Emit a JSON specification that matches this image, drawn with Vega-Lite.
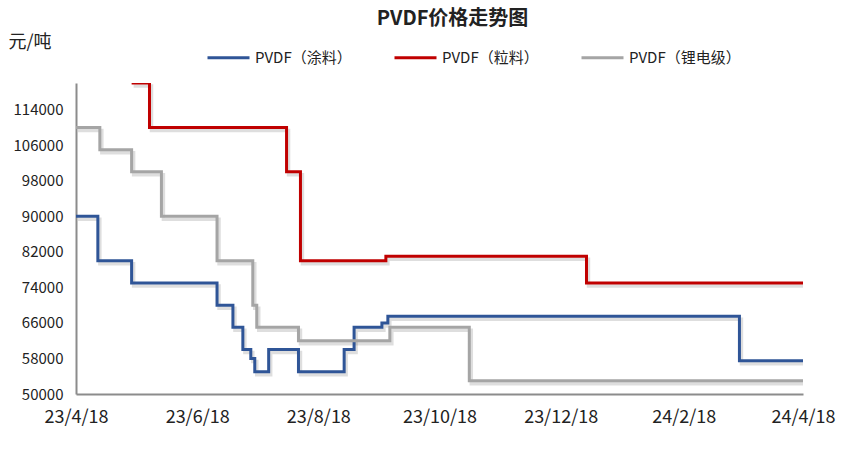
{
  "$schema": "https://vega.github.io/schema/vega-lite/v6.json",
  "width": 727,
  "height": 311,
  "autosize": {"type": "none"},
  "padding": {"left": 76, "top": 83, "right": 40, "bottom": 62},
  "background": "white",
  "config": {"view": {"stroke": null}, "font": "Noto Sans CJK SC"},
  "title": {"text": "PVDF价格走势图", "fontSize": 20, "fontWeight": "bold", "color": "#222222", "anchor": "middle", "dx": 13, "offset": 4},
  "data": {"values": [
    {"date": "2023-04-18", "series": "PVDF（涂料）", "value": 90000},
    {"date": "2023-04-29", "series": "PVDF（涂料）", "value": 80000},
    {"date": "2023-05-16", "series": "PVDF（涂料）", "value": 75000},
    {"date": "2023-06-28", "series": "PVDF（涂料）", "value": 70000},
    {"date": "2023-07-06", "series": "PVDF（涂料）", "value": 65000},
    {"date": "2023-07-11", "series": "PVDF（涂料）", "value": 60000},
    {"date": "2023-07-15", "series": "PVDF（涂料）", "value": 58000},
    {"date": "2023-07-17", "series": "PVDF（涂料）", "value": 55000},
    {"date": "2023-07-24", "series": "PVDF（涂料）", "value": 60000},
    {"date": "2023-08-08", "series": "PVDF（涂料）", "value": 55000},
    {"date": "2023-08-31", "series": "PVDF（涂料）", "value": 60000},
    {"date": "2023-09-05", "series": "PVDF（涂料）", "value": 65000},
    {"date": "2023-09-19", "series": "PVDF（涂料）", "value": 66000},
    {"date": "2023-09-22", "series": "PVDF（涂料）", "value": 67500},
    {"date": "2024-03-17", "series": "PVDF（涂料）", "value": 57500},
    {"date": "2024-04-18", "series": "PVDF（涂料）", "value": 57500},
    {"date": "2023-05-16", "series": "PVDF（粒料）", "value": 120000},
    {"date": "2023-05-25", "series": "PVDF（粒料）", "value": 110000},
    {"date": "2023-08-02", "series": "PVDF（粒料）", "value": 100000},
    {"date": "2023-08-09", "series": "PVDF（粒料）", "value": 80000},
    {"date": "2023-09-21", "series": "PVDF（粒料）", "value": 81000},
    {"date": "2023-12-31", "series": "PVDF（粒料）", "value": 75000},
    {"date": "2024-04-18", "series": "PVDF（粒料）", "value": 75000},
    {"date": "2023-04-18", "series": "PVDF（锂电级）", "value": 110000},
    {"date": "2023-04-30", "series": "PVDF（锂电级）", "value": 105000},
    {"date": "2023-05-16", "series": "PVDF（锂电级）", "value": 100000},
    {"date": "2023-05-31", "series": "PVDF（锂电级）", "value": 90000},
    {"date": "2023-06-28", "series": "PVDF（锂电级）", "value": 80000},
    {"date": "2023-07-16", "series": "PVDF（锂电级）", "value": 70000},
    {"date": "2023-07-18", "series": "PVDF（锂电级）", "value": 65000},
    {"date": "2023-08-08", "series": "PVDF（锂电级）", "value": 62000},
    {"date": "2023-09-23", "series": "PVDF（锂电级）", "value": 65000},
    {"date": "2023-11-02", "series": "PVDF（锂电级）", "value": 53000},
    {"date": "2024-04-18", "series": "PVDF（锂电级）", "value": 53000}
  ]},
  "encoding": {
    "x": {
      "field": "date", "type": "temporal",
      "scale": {"type": "utc", "domain": [{"year": 2023, "month": 4, "date": 18, "utc": true}, {"year": 2024, "month": 4, "date": 18, "utc": true}]},
      "axis": {
        "values": [
          {"year": 2023, "month": 4, "date": 18, "utc": true},
          {"year": 2023, "month": 6, "date": 18, "utc": true},
          {"year": 2023, "month": 8, "date": 18, "utc": true},
          {"year": 2023, "month": 10, "date": 18, "utc": true},
          {"year": 2023, "month": 12, "date": 18, "utc": true},
          {"year": 2024, "month": 2, "date": 18, "utc": true},
          {"year": 2024, "month": 4, "date": 18, "utc": true}
        ],
        "labelExpr": "utcFormat(datum.value, '%y/%-m/%d')",
        "title": null, "grid": false, "ticks": false,
        "labelFontSize": 18, "labelColor": "#222222", "labelPadding": 14,
        "labelFlush": false, "labelOverlap": false,
        "domainColor": "#8c8c8c", "domainWidth": 2
      }
    },
    "y": {
      "field": "value", "type": "quantitative",
      "scale": {"domain": [50000, 120000], "nice": false, "zero": false},
      "axis": {
        "values": [50000, 58000, 66000, 74000, 82000, 90000, 98000, 106000, 114000],
        "format": "d", "grid": false, "ticks": false,
        "labelFontSize": 15, "labelColor": "#222222", "labelPadding": 13,
        "domainColor": "#8c8c8c", "domainWidth": 2,
        "title": "元/吨", "titleAngle": 0, "titleX": -68, "titleY": -41,
        "titleAlign": "left", "titleBaseline": "middle",
        "titleFontSize": 18, "titleFontWeight": "normal", "titleColor": "#222222"
      }
    }
  },
  "layer": [
    {
      "mark": {"type": "line", "interpolate": "step-after", "strokeWidth": 3.5, "color": "#000000", "opacity": 0.13, "xOffset": 2, "yOffset": 3, "clip": true},
      "encoding": {"detail": {"field": "series"}}
    },
    {
      "mark": {"type": "line", "interpolate": "step-after", "strokeWidth": 3, "clip": true},
      "encoding": {
        "color": {
          "field": "series", "type": "nominal",
          "scale": {"domain": ["PVDF（涂料）", "PVDF（粒料）", "PVDF（锂电级）"], "range": ["#2F5597", "#C00000", "#A5A5A5"]},
          "legend": {
            "orient": "none", "legendX": 130, "legendY": -48, "direction": "horizontal",
            "title": null, "symbolType": "stroke", "symbolSize": 1764, "symbolStrokeWidth": 3,
            "labelFontSize": 15, "labelColor": "#222222", "labelOffset": 4, "columnPadding": 36
          }
        }
      }
    }
  ]
}
